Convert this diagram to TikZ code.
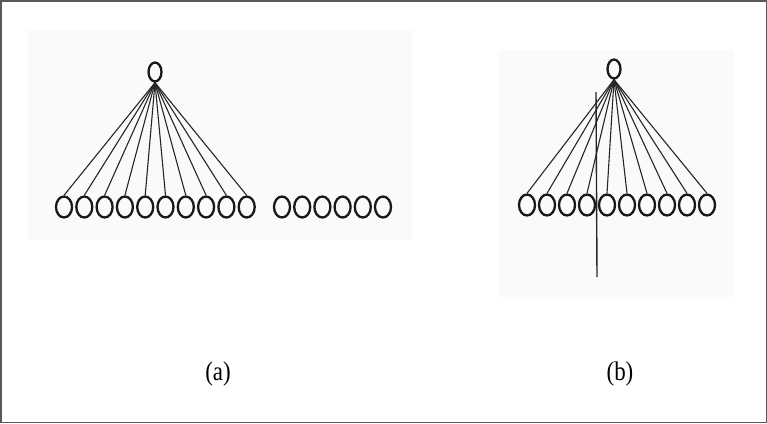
\documentclass[tikz,border=0pt]{standalone}
\usepackage{fontspec}
\setmainfont{Liberation Serif}
\usetikzlibrary{%
	shapes.geometric,%
	positioning%
}

\tikzset{
	ring/.style={ellipse, draw=black!90, line width=2.3pt, minimum width=16pt, minimum height=21pt, inner sep=0pt},
	topring/.style={ring, minimum width=13pt, minimum height=19pt},
	thread/.style={black!85, line width=1.1pt},
	panel/.style={fill=gray!4, draw=none},
	caption/.style={font=\fontsize{27}{30}\selectfont, xscale=0.85}
}

\begin{document}
\begin{tikzpicture}[x=1pt,y=-1pt]
	\useasboundingbox (0,0) rectangle (767,423);
	% Frame
	\draw[black!65, line width=1.5pt] (0.75,0.75) rectangle (766.25,422.25);
	
	% (a)
	\fill[panel] (28,30) rectangle (412,240);
	\node[topring] (topA) at (155,72) {};
	\foreach \i in {0,...,9}
		\node[ring] (a\i) at (64+20.3*\i,207) {};
	\foreach \i in {0,...,5}
		\node[ring] (c\i) at (282+20.2*\i,207) {};
	\foreach \i in {0,...,9}
		\draw[thread] (topA.south) -- (a\i.north);
	
	% (b)
	\fill[panel] (499,50) rectangle (734,297);
	\node[topring] (topB) at (614,69) {};
	\foreach \i in {0,...,9}
		\node[ring] (b\i) at (527+20*\i,205) {};
	\foreach \i in {0,...,9}
		\draw[thread] (topB.south) -- (b\i.north);
	\coordinate (poleTop) at (596,92);
	\coordinate (poleEnd) at (597,277);
	\draw[thread, line width=1.4pt] (poleTop) -- (poleEnd);
	
	% captions
	\node[caption] (capA) at (218,374) {(a)};
	\node[caption] (capB) at (620,374) {(b)};
\end{tikzpicture}
\end{document}
